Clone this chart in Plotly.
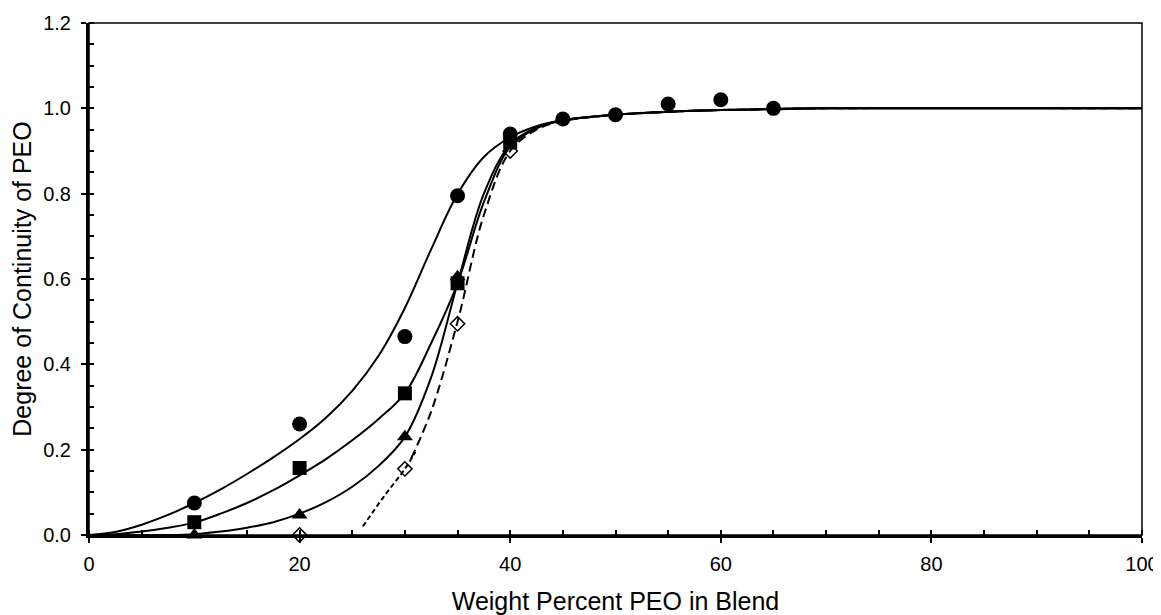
import plotly.graph_objects as go

# ---- measured data ----
circ_x = [10, 20, 30, 35, 40, 45, 50, 55, 60, 65]
circ_y = [0.075, 0.26, 0.465, 0.795, 0.94, 0.975, 0.985, 1.01, 1.02, 1.0]

sq_x = [10, 20, 30, 35, 40]
sq_y = [0.03, 0.157, 0.332, 0.59, 0.92]

tri_x = [10, 20, 30, 35, 40]
tri_y = [0.0, 0.047, 0.23, 0.605, 0.93]

dia_x = [20, 30, 35, 40]
dia_y = [0.0, 0.155, 0.495, 0.90]

# ---- fitted curves ----
fit_circ_x = [0, 2.5, 5, 7.5, 10, 12.5, 15, 17.5, 20, 22.5, 25, 27.5, 30, 32.5, 35, 37.5, 40, 42.5, 45, 50, 55, 60, 65, 70, 100]
fit_circ_y = [0, 0.007, 0.024, 0.047, 0.075, 0.107, 0.143, 0.182, 0.225, 0.275, 0.338, 0.42, 0.532, 0.67, 0.799, 0.886, 0.932, 0.958, 0.972, 0.985, 0.992, 0.996, 0.998, 1.0, 1.0]

fit_sq_x = [0, 2.5, 5, 7.5, 10, 12.5, 15, 17.5, 20, 22.5, 25, 27.5, 30, 32.5, 35, 37.5, 40, 42.5, 45, 50, 55, 60, 70, 100]
fit_sq_y = [0, 0.002, 0.008, 0.017, 0.029, 0.05, 0.075, 0.105, 0.14, 0.178, 0.222, 0.272, 0.332, 0.45, 0.59, 0.78, 0.91, 0.953, 0.972, 0.985, 0.992, 0.996, 1.0, 1.0]

fit_tri_x = [0, 7.5, 10, 12.5, 15, 17.5, 20, 22.5, 25, 27.5, 30, 32.5, 35, 37.5, 40, 42.5, 45, 50, 55, 60, 70, 100]
fit_tri_y = [0, 0, 0.002, 0.008, 0.017, 0.03, 0.05, 0.077, 0.113, 0.162, 0.23, 0.37, 0.59, 0.8, 0.915, 0.955, 0.972, 0.985, 0.992, 0.996, 1.0, 1.0]

fit_fine_x = [26, 28, 30, 31]
fit_fine_y = [0.02, 0.09, 0.155, 0.195]

fit_coarse_x = [30.6, 32.5, 35, 37.5, 40, 42.5, 45, 50, 55, 60, 70, 100]
fit_coarse_y = [0.18, 0.29, 0.5, 0.75, 0.9, 0.95, 0.97, 0.985, 0.992, 0.996, 1.0, 1.0]

x_major = [0, 20, 40, 60, 80, 100]
y_major = [0.0, 0.2, 0.4, 0.6, 0.8, 1.0, 1.2]

FONT = "Liberation Sans, Arial, sans-serif"

fig = go.Figure()

def curve(x, y, dash="solid", width=2):
    fig.add_trace(go.Scatter(x=x, y=y, mode="lines",
                             line=dict(color="black", width=width, dash=dash, shape="spline", smoothing=1.0),
                             showlegend=False, hoverinfo="skip"))

curve(fit_circ_x, fit_circ_y)
curve(fit_sq_x, fit_sq_y)
curve(fit_tri_x, fit_tri_y)
curve(fit_fine_x, fit_fine_y, dash="5px,3px", width=2)
curve(fit_coarse_x, fit_coarse_y, dash="9px,5px", width=2)

def pts(x, y, symbol, size, lw=0):
    fig.add_trace(go.Scatter(x=x, y=y, mode="markers", cliponaxis=False, showlegend=False,
                             marker=dict(symbol=symbol, size=size, color="black",
                                         line=dict(color="black", width=lw))))

pts(circ_x, circ_y, "circle", 15)
pts(sq_x, sq_y, "square", 14)
pts(tri_x, tri_y, "triangle-up", 14)
pts(dia_x, dia_y, "diamond-open", 11, 1.5)

fig.update_layout(
    width=1153, height=607,
    margin=dict(l=81, r=19, t=15, b=80),
    paper_bgcolor="white", plot_bgcolor="white",
    font=dict(family=FONT, size=20, color="black"),
    xaxis=dict(range=[0, 100], tickvals=x_major, ticktext=[str(v) for v in x_major],
               ticks="outside", ticklen=5, tickwidth=2, tickcolor="black",
               minor=dict(dtick=5, ticks="inside", ticklen=5, tickwidth=1.5, tickcolor="black"),
               showline=True, linewidth=3, linecolor="black", showgrid=False, zeroline=False,
               automargin=False, ticklabelstandoff=4,
               tickfont=dict(family=FONT, size=20),
               title=dict(text="Weight Percent PEO in Blend", font=dict(family=FONT, size=25), standoff=26)),
    yaxis=dict(range=[0, 1.2], tickvals=y_major, ticktext=[f"{v:.1f}" for v in y_major],
               ticks="outside", ticklen=5, tickwidth=2, tickcolor="black",
               minor=dict(dtick=0.05, ticks="inside", ticklen=5, tickwidth=1.5, tickcolor="black"),
               showline=True, linewidth=3, linecolor="black", showgrid=False, zeroline=False,
               automargin=False, ticklabelstandoff=6,
               tickfont=dict(family=FONT, size=20),
               title=dict(text="Degree of Continuity of PEO", font=dict(family=FONT, size=25), standoff=14)),
    xaxis2=dict(overlaying="x", anchor="y", side="bottom", range=[0, 100], tickvals=x_major,
                ticks="inside", ticklen=5, tickwidth=2, tickcolor="black", showticklabels=False,
                showline=False, showgrid=False, zeroline=False),
    yaxis2=dict(overlaying="y", anchor="x", side="left", range=[0, 1.2], tickvals=y_major,
                ticks="inside", ticklen=5, tickwidth=2, tickcolor="black", showticklabels=False,
                showline=False, showgrid=False, zeroline=False),
    shapes=[dict(type="rect", xref="paper", yref="paper", x0=0, x1=1, y0=0, y1=1,
                 line=dict(color="black", width=1.5), layer="above")],
)
fig.add_trace(go.Scatter(x=[None], y=[None], xaxis="x2", yaxis="y2", showlegend=False))

fig.write_html("out.html")
